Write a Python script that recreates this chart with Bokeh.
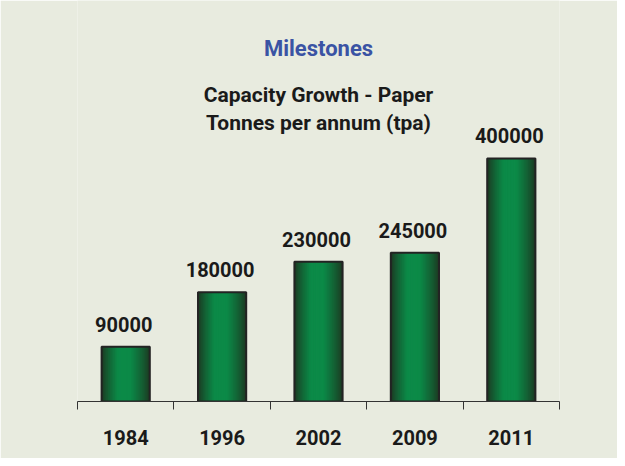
import numpy as np
from bokeh.plotting import figure
from bokeh.models import Range1d, FixedTicker, Label, LabelSet, ColumnDataSource
from bokeh.core.properties import value
from bokeh.embed import file_html
from bokeh.resources import INLINE

# ---- data ----
years = ["1984", "1996", "2002", "2009", "2011"]
capacity = [90000, 180000, 230000, 245000, 400000]
title_main = "Milestones"
subtitle_1 = "Capacity Growth - Paper"
subtitle_2 = "Tonnes per annum (tpa)"

# ---- styling ----
FONT = "Roboto"
BG = "#e8ebdf"
W, H = 617, 458
BORDER_L, BORDER_R, BORDER_B = 77, 58, 57
Y_END = 660000
FRAME_H = H - BORDER_B

def data_y(px_from_top):
    return (FRAME_H - px_from_top) / FRAME_H * Y_END

n = len(years)
xs = np.arange(n) + 0.5

p = figure(width=W, height=H, output_backend="svg", toolbar_location=None,
           x_range=Range1d(0, n), y_range=Range1d(0, Y_END),
           y_axis_location=None, min_border_left=BORDER_L, min_border_right=BORDER_R,
           min_border_bottom=BORDER_B, min_border_top=0)
p.background_fill_color = BG
p.border_fill_color = BG
p.outline_line_color = None
p.grid.visible = False

# gradient bars via nested, progressively narrower and brighter bars
bar_w = 0.5
M = 32
edge = np.array([30, 54, 33])
center = np.array([12, 138, 72])
for k in range(M):
    f = k / M
    wk = bar_w * (1 - f)
    tt = min(1.0, f / 0.72) ** 0.75
    col = "#%02x%02x%02x" % tuple((edge + (center - edge) * tt).astype(int))
    off = -0.04 * bar_w * f
    p.vbar(x=xs + off, top=capacity, bottom=0, width=wk, fill_color=col, line_color=None)
p.vbar(x=xs, top=capacity, bottom=0, width=bar_w, fill_color=None,
       line_color="#232323", line_width=2)

# value labels
src = ColumnDataSource(dict(x=xs, y=capacity, t=[str(v) for v in capacity]))
p.add_layout(LabelSet(x="x", y="y", text="t", source=src, text_align="center",
                      text_baseline="alphabetic", y_offset=15, x_offset=-2,
                      text_font=value(FONT), text_font_size=value("20px"),
                      text_font_style="bold", text_color="#1a1a1a"))

# titles
p.add_layout(Label(x=n / 2, y=data_y(48), text=title_main, text_align="center",
                   text_baseline="alphabetic", text_font=FONT,
                   text_font_size="22px", text_font_style="bold", text_color="#3a53a4"))
p.add_layout(Label(x=n / 2, y=data_y(94), text=subtitle_1, text_align="center",
                   text_baseline="alphabetic", text_font=FONT,
                   text_font_size="21px", text_font_style="bold", text_color="#1a1a1a"))
p.add_layout(Label(x=n / 2, y=data_y(122), text=subtitle_2, text_align="center",
                   text_baseline="alphabetic", text_font=FONT,
                   text_font_size="21px", text_font_style="bold", text_color="#1a1a1a"))

# x axis: labels at centres, tick marks at category boundaries
ax = p.xaxis[0]
ax.ticker = FixedTicker(ticks=list(xs), minor_ticks=list(range(n + 1)))
ax.major_label_overrides = {float(x): y for x, y in zip(xs, years)}
ax.major_tick_out = 0
ax.major_tick_in = 0
ax.minor_tick_out = 8
ax.minor_tick_in = 0
ax.minor_tick_line_color = "#333333"
ax.axis_line_color = "#333333"
ax.axis_line_width = 1
ax.major_label_standoff = 20
ax.major_label_text_font = FONT
ax.major_label_text_font_size = "20px"
ax.major_label_text_font_style = "bold"
ax.major_label_text_color = "#1a1a1a"

open("out.html", "w").write(file_html(p, INLINE))
